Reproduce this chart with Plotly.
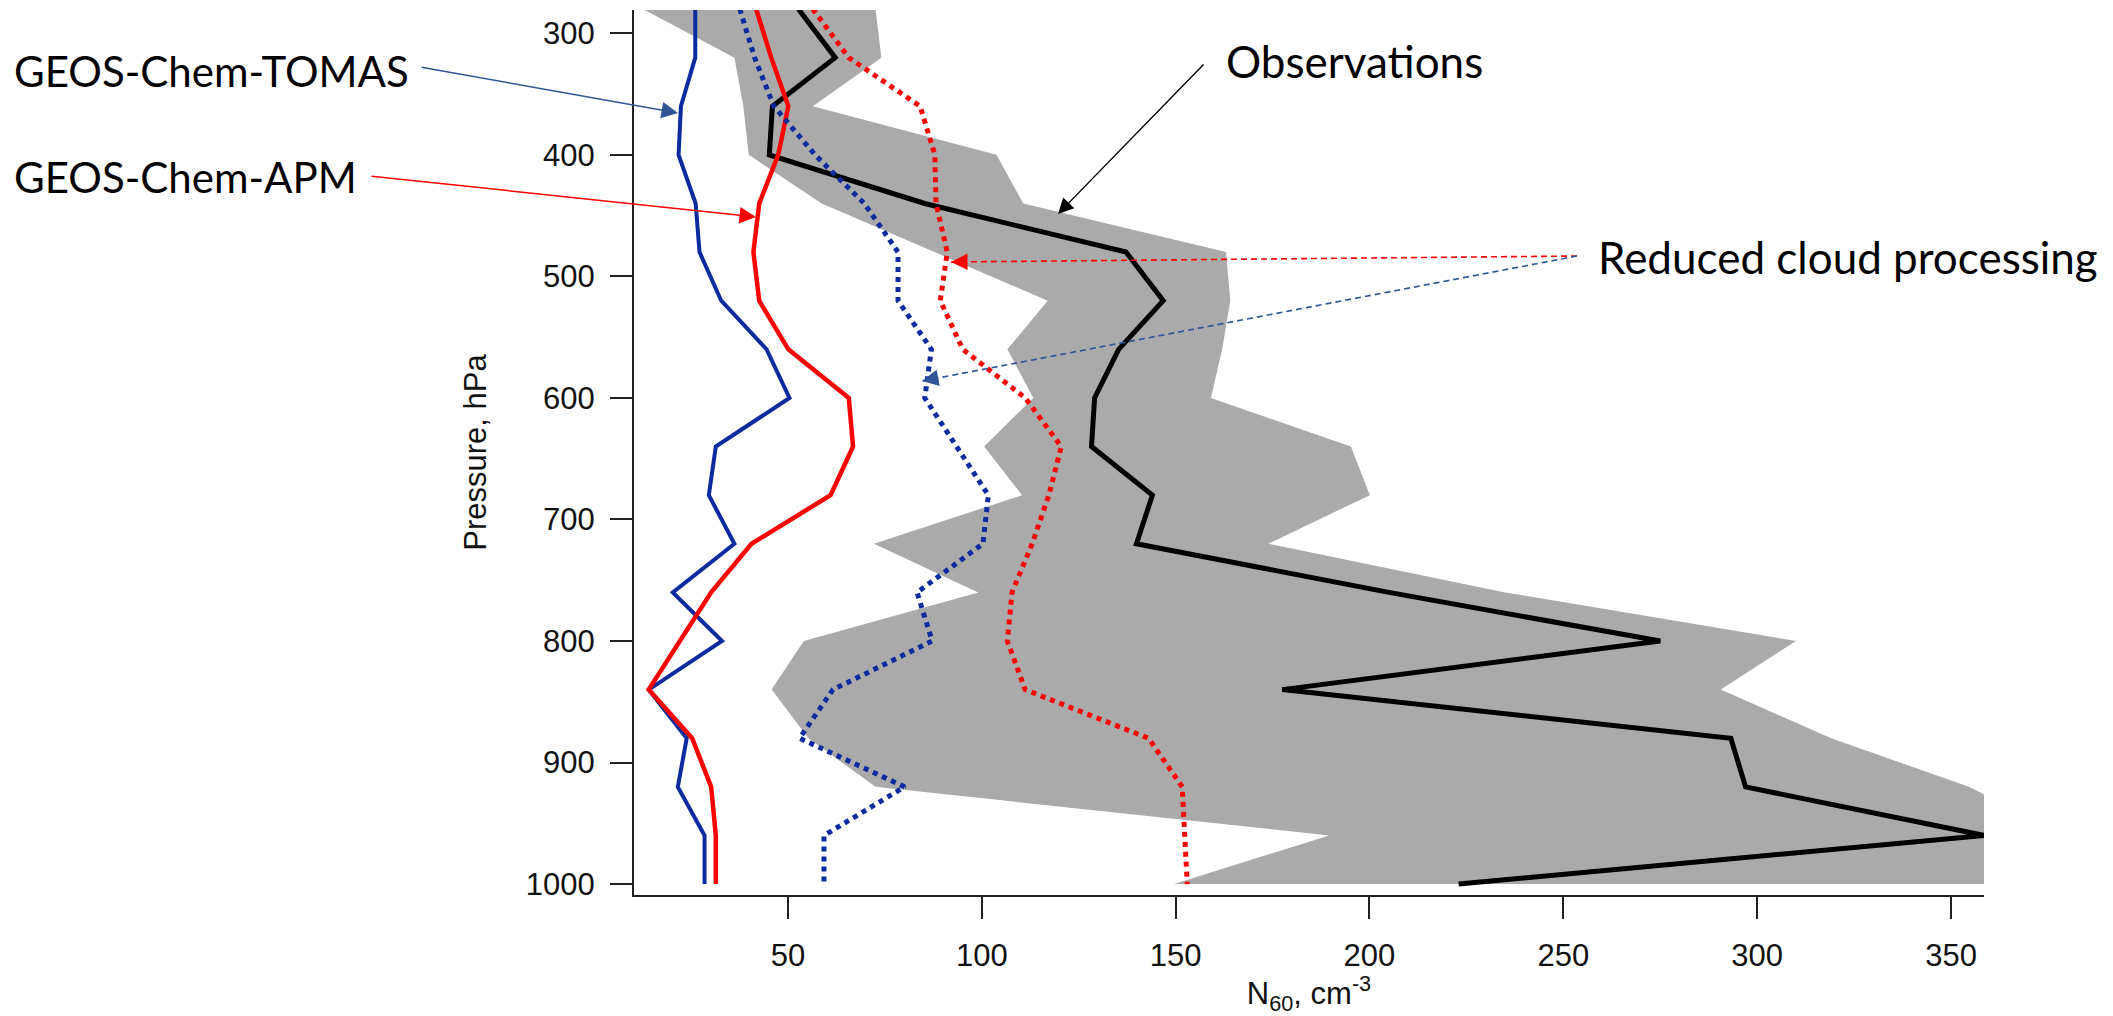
import plotly.graph_objects as go

# ---------------- data ----------------
pressure = [280, 320, 360, 400, 440, 480, 520, 560, 600, 640,
            680, 720, 760, 800, 840, 880, 920, 960, 1000]

tomas = [26.1, 26.1, 22.4, 21.8, 26.2, 27.2, 32.8, 44.5, 50.4, 31.4,
         29.6, 36.2, 20.3, 33.0, 14.1, 23.9, 21.6, 28.5, 28.5]
apm = [41.8, 45.7, 50.1, 47.5, 42.6, 41.1, 42.6, 50.1, 65.7, 66.8,
       61.0, 40.6, 30.2, 22.2, 14.1, 25.3, 30.2, 31.4, 31.4]
tomas_rcp = [37.6, 41.4, 46.4, 57.0, 69.7, 78.4, 78.4, 87.0, 85.3, 93.4,
             101.7, 100.3, 83.3, 87.2, 61.6, 53.0, 80.1, 59.3, 59.3]
apm_rcp = [56.4, 65.7, 84.1, 87.9, 88.2, 91.1, 89.3, 95.1, 111.2, 120.5,
           117.3, 113.0, 107.8, 106.6, 111.2, 143.0, 151.7, 152.2, 153.0]
obs = [52.7, 62.2, 46.0, 45.2, 85.3, 137.2, 146.8, 135.3, 129.1, 128.3,
       144.0, 139.9, 205.0, 275.0, 177.5, 293.2, 297.0, 358.6, 223.0]
obs_low = [12.6, 36.2, 38.5, 39.9, 58.7, 87.8, 117.0, 106.6, 113.3, 100.6,
           110.4, 72.2, 99.1, 54.1, 45.8, 55.3, 72.6, 189.6, 149.6]
obs_high = [72.6, 74.1, 56.4, 103.8, 110.7, 163.0, 164.1, 162.0, 159.1, 195.2,
            200.1, 173.9, 235.0, 310.0, 290.6, 319.1, 354.6, 380.0, 375.0]

x_ticks = [50, 100, 150, 200, 250, 300, 350]
y_ticks = [300, 400, 500, 600, 700, 800, 900, 1000]
x_range = [10.3, 358.5]
y_range = [1009, 280.8]

# ---------------- layout geometry ----------------
W, H = 2113, 1016
L, R, T, B = 634, 129, 10, 121
PW, PH = W - L - R, H - T - B


def pxp(x):
    return (x - L) / PW


def pyp(y):
    return 1 - (y - T) / PH


BLUE = "#0B2B9E"
RED = "#FF0000"
ARROW_BLUE = "#2F5597"
TXT_FONT = dict(family="Lato, 'Open Sans', sans-serif", size=44, color="black")
TXT_FONT_CAPS = dict(family="Lato, 'Open Sans', sans-serif", size=42, color="black")
AX_FONT = dict(family="'Liberation Sans', Arial, Helvetica, sans-serif", size=31, color="#111111")

fig = go.Figure()

# observation range (grey band)
fig.add_trace(go.Scatter(
    x=obs_low + obs_high[::-1],
    y=pressure + pressure[::-1],
    fill="toself", fillcolor="#AAAAAA", mode="lines",
    line=dict(width=0, color="#AAAAAA"), hoverinfo="skip", showlegend=False,
))
fig.add_trace(go.Scatter(x=obs, y=pressure, mode="lines",
                         line=dict(color="black", width=5), name="Observations", showlegend=False))
fig.add_trace(go.Scatter(x=tomas, y=pressure, mode="lines",
                         line=dict(color=BLUE, width=4), name="GEOS-Chem-TOMAS", showlegend=False))
fig.add_trace(go.Scatter(x=apm, y=pressure, mode="lines",
                         line=dict(color=RED, width=4.5), name="GEOS-Chem-APM", showlegend=False))
fig.add_trace(go.Scatter(x=tomas_rcp, y=pressure, mode="lines",
                         line=dict(color=BLUE, width=5, dash="dot"),
                         name="TOMAS reduced cloud processing", showlegend=False))
fig.add_trace(go.Scatter(x=apm_rcp, y=pressure, mode="lines",
                         line=dict(color=RED, width=5, dash="dot"),
                         name="APM reduced cloud processing", showlegend=False))

# ---------------- annotations ----------------
annotations = []
texts = [
    ("GEOS-Chem-TOMAS", 12, 71, TXT_FONT_CAPS),
    ("GEOS-Chem-APM", 12, 177, TXT_FONT_CAPS),
    ("Observations", 1224, 61, TXT_FONT),
    ("Reduced cloud processing", 1596, 257, TXT_FONT),
]
for t, x, y, f in texts:
    annotations.append(dict(text=t, xref="paper", yref="paper", x=pxp(x), y=pyp(y),
                            xanchor="left", yanchor="middle", showarrow=False, font=f))

# solid arrows: (tail_x, tail_y, tip_x, tip_y, color, width)
solid_arrows = [
    (420, 67, 678, 113, ARROW_BLUE, 1.5),
    (370, 176, 756, 217, RED, 1.5),
    (1205, 63, 1058, 214, "black", 1.4),
]
for tx, ty, hx, hy, col, w in solid_arrows:
    annotations.append(dict(text="", xref="paper", yref="paper", x=pxp(hx), y=pyp(hy),
                            axref="pixel", ayref="pixel", ax=tx - hx, ay=ty - hy,
                            showarrow=True, arrowhead=2, arrowsize=2.2, arrowwidth=w,
                            arrowcolor=col, standoff=0, startstandoff=0))

# dashed arrows
shapes = []
dashed_arrows = [
    (1577, 256, 951, 262, RED),
    (1577, 256, 922, 381, ARROW_BLUE),
]
for tx, ty, hx, hy, col in dashed_arrows:
    shapes.append(dict(type="line", xref="paper", yref="paper",
                       x0=pxp(tx), y0=pyp(ty), x1=pxp(hx), y1=pyp(hy),
                       line=dict(color=col, width=1.6, dash="6px,4px")))
    dx, dy = tx - hx, ty - hy
    n = (dx * dx + dy * dy) ** 0.5
    annotations.append(dict(text="", xref="paper", yref="paper", x=pxp(hx), y=pyp(hy),
                            axref="pixel", ayref="pixel", ax=dx / n * 14, ay=dy / n * 14,
                            showarrow=True, arrowhead=2, arrowsize=2.2, arrowwidth=1.5,
                            arrowcolor=col, standoff=0, startstandoff=0))

fig.update_layout(
    width=W, height=H,
    margin=dict(l=L, r=R, t=T, b=B, pad=0, autoexpand=False),
    paper_bgcolor="white", plot_bgcolor="white",
    showlegend=False,
    annotations=annotations,
    shapes=shapes,
    font=AX_FONT,
)
fig.update_xaxes(
    range=x_range, tickmode="array", tickvals=x_ticks, ticktext=[str(v) for v in x_ticks],
    showgrid=False, zeroline=False, showline=True, linecolor="#222222", linewidth=2,
    ticks="outside", ticklen=22, tickwidth=2, tickcolor="#222222",
    tickfont=AX_FONT, ticklabelstandoff=10,
    title=dict(text="N<sub>60</sub>, cm<sup>-3</sup>", font=AX_FONT, standoff=14),
    automargin=False,
)
fig.update_yaxes(
    range=y_range, tickmode="array", tickvals=y_ticks, ticktext=[str(v) for v in y_ticks],
    showgrid=False, zeroline=False, showline=True, linecolor="#222222", linewidth=2,
    ticks="outside", ticklen=22, tickwidth=2, tickcolor="#222222",
    tickfont=AX_FONT, ticklabelstandoff=9,
    title=dict(text="Pressure, hPa", font=AX_FONT, standoff=30),
    automargin=False,
)

fig.write_html("out.html", config={"displayModeBar": False},
               post_script="document.body.style.margin='0';document.body.style.overflow='hidden';")
